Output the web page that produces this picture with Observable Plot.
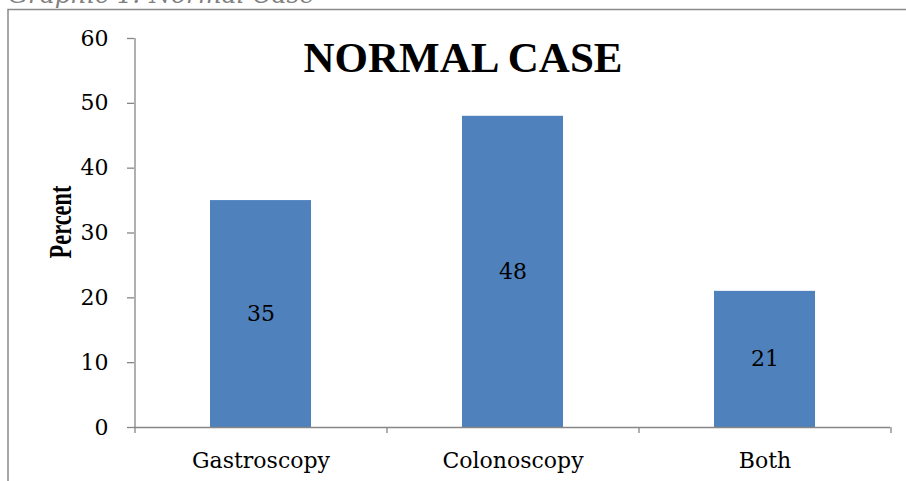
<!DOCTYPE html>
<html>
<head>
<meta charset="utf-8">
<script src="https://cdn.jsdelivr.net/npm/d3@7"></script>
<script src="https://cdn.jsdelivr.net/npm/@observablehq/plot@0.6"></script>
<style>
  html, body { margin: 0; padding: 0; background: #fff; }
  #wrap { position: relative; width: 906px; height: 481px; overflow: hidden; }
  #deco { position: absolute; left: 0; top: 0; pointer-events: none; }
</style>
</head>
<body>
<div id="wrap">
  <div id="chart"></div>
  <svg id="deco" width="906" height="481">
    <rect x="8" y="9.5" width="1000" height="1000" fill="none" stroke="#8a8a8a" stroke-width="1.5"></rect>
    <text x="8" y="3" font-family="DejaVu Serif" font-style="italic" font-size="25" fill="#808080">Graphic 1: Normal Case</text>
  </svg>
</div>
<script>
// Procedure categories and the share of normal findings (%)
const categories = ["Gastroscopy", "Colonoscopy", "Both"];
const percents = [35, 48, 21];
const yTicks = [0, 10, 20, 30, 40, 50, 60];
const title = "NORMAL CASE";
const yLabel = "Percent";

const data = categories.map((c, i) => ({category: c, value: percents[i]}));

const W = 906, H = 481;
const mL = 134, mR = 16, mT = 38, mB = 54;
const step = (W - mL - mR) / categories.length; // width of one category slot
const axisGray = "#868686";

const chart = Plot.plot({
  width: W,
  height: H,
  marginLeft: mL,
  marginRight: mR,
  marginTop: mT,
  marginBottom: mB,
  style: {fontFamily: "DejaVu Serif", fontSize: "22px", background: "white"},
  x: {domain: categories, paddingInner: 0.6, paddingOuter: 0.3},
  y: {domain: [0, 60]},
  marks: [
    Plot.barY(data, {x: "category", y: "value", fill: "#4F81BD"}),
    // value labels centred inside each bar
    Plot.text(data, {x: "category", y: d => d.value / 2, text: d => String(d.value), fill: "black", fontSize: 22}),
    // axes lines
    Plot.ruleY([0], {stroke: axisGray, strokeWidth: 1.3}),
    Plot.ruleX([categories[0]], {x: d => d, y1: 0, y2: 60, dx: -step / 2, stroke: axisGray, strokeWidth: 1.3}),
    // category boundary ticks below the baseline
    Plot.ruleX(categories, {x: d => d, y1: 0, y2: 0, insetBottom: -6, dx: -step / 2, stroke: axisGray, strokeWidth: 1.3}),
    Plot.ruleX([categories[categories.length - 1]], {x: d => d, y1: 0, y2: 0, insetBottom: -6, dx: step / 2, stroke: axisGray, strokeWidth: 1.3}),
    Plot.axisY({ticks: yTicks, tickSize: 7, tickPadding: 19, stroke: axisGray, strokeWidth: 1.3, fill: "black", label: null, tickFormat: d => String(d)}),
    Plot.axisX({tickSize: 0, tickPadding: 25, fill: "black", label: null}),
    // chart title
    Plot.text([title], {text: d => d, frameAnchor: "top-left", dx: 462.5 - mL, dy: 58 - mT,
      lineAnchor: "middle", textAnchor: "middle",
      fontFamily: "Liberation Serif", fontWeight: "bold", fontSize: 43, fill: "black"}),
    // y axis title
    Plot.text([yLabel], {text: d => d, frameAnchor: "left", rotate: -90, dx: 61 - mL, dy: 221.5 - (mT + H - mB) / 2,
      lineAnchor: "middle", textAnchor: "middle",
      fontFamily: "Liberation Serif", fontWeight: "bold", fontSize: 31, fill: "black"})
  ]
});

// the axis title is set condensed to a fixed length
for (const t of chart.querySelectorAll("text")) {
  if (t.textContent === yLabel) {
    t.setAttribute("textLength", "73");
    t.setAttribute("lengthAdjust", "spacingAndGlyphs");
  }
}
document.getElementById("chart").appendChild(chart);
</script>
</body>
</html>
